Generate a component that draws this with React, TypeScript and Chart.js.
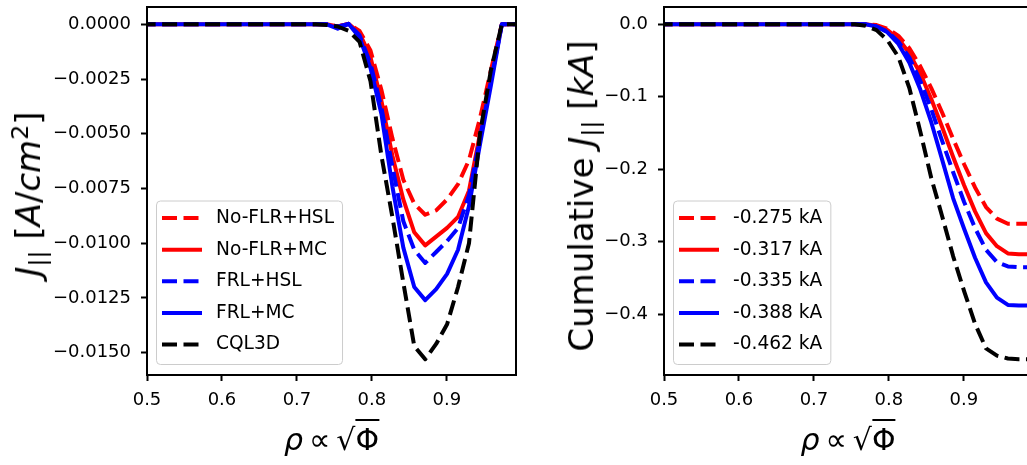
import React, { useEffect, useRef } from "react";
import { Chart, registerables } from "chart.js";
Chart.register(...registerables);

// radial grid (rho ∝ sqrt(Phi))
const rho = [0.4915, 0.5499, 0.6083, 0.6667, 0.7105, 0.7251, 0.7397, 0.7543, 0.7689, 0.7835, 0.7981, 0.8127, 0.8273, 0.8419, 0.8565, 0.8711, 0.8857, 0.9003, 0.9149, 0.9295, 0.9441, 0.9587, 0.9733, 0.9879, 0.9922];

// J_parallel [A/cm^2]
const jNoFlrHsl = [0, 0, 0, 0, 0, 0, 0, -0.0001, 0.00002, -0.0003, -0.0012, -0.003, -0.0052, -0.0071, -0.0082, -0.0087, -0.0085, -0.008, -0.0073, -0.0062, -0.0043, -0.0021, 0, 0, 0];
const jNoFlrMc = [0, 0, 0, 0, 0, 0, 0, -0.0001, 0.00002, -0.0004, -0.0015, -0.0035, -0.006, -0.008, -0.0095, -0.0101, -0.0097, -0.0093, -0.0088, -0.0076, -0.005, -0.0025, 0, 0, 0];
const jFrlHsl = [0, 0, 0, 0, 0, 0, 0, -0.0001, 0.00002, -0.0005, -0.0018, -0.0038, -0.0065, -0.009, -0.0103, -0.0109, -0.0104, -0.0099, -0.0093, -0.0078, -0.0052, -0.0026, 0, 0, 0];
const jFrlMc = [0, 0, 0, 0, 0, 0, 0, -0.0002, 0.00002, -0.0006, -0.002, -0.0041, -0.0074, -0.0102, -0.012, -0.0126, -0.0121, -0.0114, -0.0103, -0.0083, -0.0055, -0.0028, 0, 0, 0];
const jCql3d = [0, 0, 0, 0, 0, 0, -0.00003, -0.0001, -0.0003, -0.0008, -0.0026, -0.006, -0.0088, -0.0118, -0.0147, -0.0153, -0.0146, -0.0137, -0.012, -0.01, -0.005, -0.0021, 0, 0, 0];

// cumulative J_parallel [kA]
const cNoFlrHsl = [0, 0, 0, 0, 0, 0, 0, 0, 0, -0.001, -0.006, -0.016, -0.033, -0.058, -0.088, -0.122, -0.158, -0.193, -0.225, -0.252, -0.268, -0.275, -0.275, -0.275, -0.275];
const cNoFlrMc = [0, 0, 0, 0, 0, 0, 0, 0, 0, -0.002, -0.008, -0.02, -0.04, -0.068, -0.103, -0.142, -0.183, -0.222, -0.258, -0.288, -0.306, -0.316, -0.317, -0.317, -0.317];
const cFrlHsl = [0, 0, 0, 0, 0, 0, 0, 0, 0, -0.003, -0.01, -0.024, -0.046, -0.078, -0.117, -0.161, -0.204, -0.245, -0.281, -0.311, -0.328, -0.334, -0.335, -0.335, -0.335];
const cFrlMc = [0, 0, 0, 0, 0, 0, 0, 0, 0, -0.003, -0.011, -0.027, -0.053, -0.09, -0.135, -0.187, -0.24, -0.282, -0.322, -0.356, -0.377, -0.387, -0.388, -0.388, -0.388];
const cCql3d = [0, 0, 0, 0, 0, 0, 0, 0, -0.002, -0.008, -0.022, -0.045, -0.088, -0.148, -0.212, -0.265, -0.32, -0.368, -0.413, -0.447, -0.457, -0.461, -0.462, -0.462, -0.462];

const leftLabels = ["No-FLR+HSL", "No-FLR+MC", "FRL+HSL", "FRL+MC", "CQL3D"];
const rightLabels = ["-0.275 kA", "-0.317 kA", "-0.335 kA", "-0.388 kA", "-0.462 kA"];
const seriesColors = ["#ff0000", "#ff0000", "#0000ff", "#0000ff", "#000000"];
const seriesDashed = [true, false, true, false, true];

const xTicks = [0.5, 0.6, 0.7, 0.8, 0.9];
const yTicksLeft = [-0.015, -0.0125, -0.01, -0.0075, -0.005, -0.0025, 0];
const yTicksRight = [-0.4, -0.3, -0.2, -0.1, 0];

const FONT = "DejaVu Sans";
const DASH = [15, 6.5];

const framePlugin = {
  id: "frameLegend",
  afterDraw(chart: any) {
    const { ctx, chartArea: a } = chart;
    ctx.save();
    // legend
    const ds = chart.data.datasets;
    ctx.font = `18.6px "${FONT}"`;
    let maxW = 0;
    ds.forEach((d: any) => { maxW = Math.max(maxW, ctx.measureText(d.label).width); });
    const bx = a.left + 9;
    const bh = 163.5;
    const by = a.bottom - 11 - bh;
    const bw = 60 + maxW + 8;
    ctx.beginPath();
    ctx.roundRect(bx + 0.5, by + 0.5, bw, bh, 4);
    ctx.fillStyle = "rgba(255,255,255,0.8)";
    ctx.fill();
    ctx.strokeStyle = "#cccccc";
    ctx.lineWidth = 1;
    ctx.stroke();
    ds.forEach((d: any, i: number) => {
      const cy = by + 17.6 + i * 31.6;
      ctx.beginPath();
      ctx.strokeStyle = d.borderColor;
      ctx.lineWidth = d.borderWidth;
      ctx.lineCap = "butt";
      ctx.setLineDash(d.borderDash || []);
      ctx.moveTo(bx + 6, cy);
      ctx.lineTo(bx + 46, cy);
      ctx.stroke();
      ctx.setLineDash([]);
      ctx.fillStyle = "#000";
      ctx.textBaseline = "middle";
      ctx.textAlign = "left";
      ctx.fillText(d.label, bx + 60, cy);
    });
    // frame
    ctx.strokeStyle = "#000";
    ctx.lineWidth = 2;
    ctx.strokeRect(a.left, a.top, a.right - a.left, a.bottom - a.top);
    ctx.restore();
  },
};

function makeConfig(series: number[][], labels: string[], yMin: number, yMax: number, yTicks: number[], fmt: (v: number) => string, yAxisWidth: number, padRight: number): any {
  const n = series.length;
  return {
    type: "line",
    data: {
      datasets: series.map((vals, i) => ({
        label: labels[i],
        data: rho.map((x, k) => ({ x, y: vals[k] })),
        borderColor: seriesColors[i],
        backgroundColor: seriesColors[i],
        borderWidth: 4,
        borderDash: seriesDashed[i] ? DASH : [],
        borderCapStyle: "butt",
        borderJoinStyle: "round",
        pointRadius: 0,
        tension: 0,
        fill: false,
        order: n - i,
      })),
    },
    options: {
      responsive: false,
      animation: false,
      devicePixelRatio: 1,
      layout: { padding: { top: 7, right: padRight, left: 0, bottom: 0 } },
      plugins: { legend: { display: false }, tooltip: { enabled: false } },
      scales: {
        x: {
          type: "linear",
          min: 0.5,
          max: 0.9922,
          afterBuildTicks: (s: any) => { s.ticks = xTicks.map((v) => ({ value: v })); },
          afterFit: (s: any) => { s.height = 90; s.paddingLeft = 0; s.paddingRight = 0; s.paddingTop = 0; s.paddingBottom = 0; },
          ticks: {
            callback: (v: number) => v.toFixed(1),
            font: { family: FONT, size: 18 },
            color: "#000",
            padding: 9,
            maxRotation: 0,
            autoSkip: false,
          },
          grid: { drawOnChartArea: false, drawTicks: true, tickLength: 6, tickWidth: 2, tickColor: "#000" },
          border: { display: false },
        },
        y: {
          type: "linear",
          min: yMin,
          max: yMax,
          afterBuildTicks: (s: any) => { s.ticks = yTicks.map((v) => ({ value: v })); },
          afterFit: (s: any) => { s.width = yAxisWidth; s.paddingLeft = 0; s.paddingRight = 0; s.paddingTop = 0; s.paddingBottom = 0; },
          ticks: {
            callback: (v: number) => fmt(v),
            font: { family: FONT, size: 18 },
            color: "#000",
            padding: 10,
            autoSkip: false,
          },
          grid: { drawOnChartArea: false, drawTicks: true, tickLength: 6, tickWidth: 2, tickColor: "#000" },
          border: { display: false },
        },
      },
    },
    plugins: [framePlugin],
  };
}

const fmtLeft = (v: number) => (Math.abs(v) < 1e-12 ? "0.0000" : (v < 0 ? "\u2212" : "") + Math.abs(v).toFixed(4));
const fmtRight = (v: number) => (Math.abs(v) < 1e-12 ? "0.0" : (v < 0 ? "\u2212" : "") + Math.abs(v).toFixed(1));

const labelStyle: React.CSSProperties = {
  position: "absolute",
  fontFamily: FONT,
  fontSize: 34,
  lineHeight: 1,
  whiteSpace: "nowrap",
  color: "#000",
  transform: "translate(-50%,-50%) rotate(-90deg)",
};

const xLabelStyle: React.CSSProperties = {
  position: "absolute",
  fontFamily: FONT,
  fontSize: 30,
  lineHeight: 1,
  whiteSpace: "nowrap",
  color: "#000",
  transform: "translate(-50%,-50%)",
};

function Sub() {
  return <sub style={{ fontSize: "0.7em", verticalAlign: "-0.25em", lineHeight: 0 }}>||</sub>;
}

function XLabel() {
  return (
    <span>
      <i>ρ</i><span style={{ margin: "0 0.2em" }}>∝</span>√<span style={{ borderTop: "2px solid #000", paddingTop: 1 }}>Φ</span>
    </span>
  );
}

export default function App() {
  const lRef = useRef<HTMLCanvasElement>(null);
  const rRef = useRef<HTMLCanvasElement>(null);
  useEffect(() => {
    const c1 = new Chart(lRef.current as HTMLCanvasElement, makeConfig(
      [jNoFlrHsl, jNoFlrMc, jFrlHsl, jFrlMc, jCql3d], leftLabels, -0.01602, 0.00079, yTicksLeft, fmtLeft, 147, 14));
    const c2 = new Chart(rRef.current as HTMLCanvasElement, makeConfig(
      [cNoFlrHsl, cNoFlrMc, cFrlHsl, cFrlMc, cCql3d], rightLabels, -0.4837, 0.0239, yTicksRight, fmtRight, 134, 7));
    return () => { c1.destroy(); c2.destroy(); };
  }, []);
  return (
    <div style={{ position: "fixed", left: 0, top: 0, width: 1027, height: 465, overflow: "hidden", background: "#fff" }}>
      <canvas ref={lRef} width={530} height={465} style={{ position: "absolute", left: 0, top: 0 }} />
      <canvas ref={rRef} width={510} height={465} style={{ position: "absolute", left: 530, top: 0 }} />
      <div style={{ ...labelStyle, left: 28, top: 194 }}>
        <i>J</i><Sub /> [<i>A</i>/<i>cm</i><sup style={{ fontSize: "0.7em", lineHeight: 0 }}>2</sup>]
      </div>
      <div style={{ ...labelStyle, left: 581, top: 196 }}>
        Cumulative <i>J</i><Sub /> [<i>kA</i>]
      </div>
      <div style={{ ...xLabelStyle, left: 331.5, top: 440 }}><XLabel /></div>
      <div style={{ ...xLabelStyle, left: 848, top: 440 }}><XLabel /></div>
    </div>
  );
}
